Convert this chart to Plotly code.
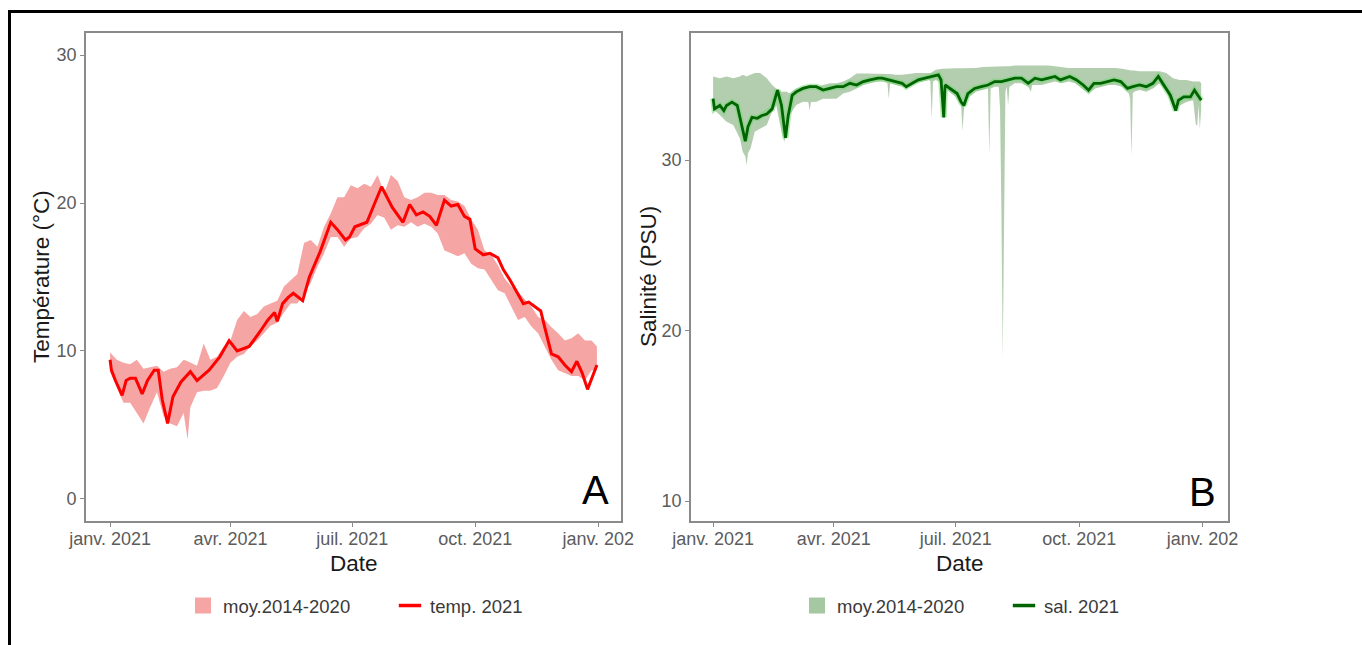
import pandas as pd
import plotly.graph_objects as go

# ---------------- données ----------------
# jour de l'année (0 = 1er janvier 2021)
temp_doy = [0, 1, 4, 9, 12, 15, 19, 24, 28, 33, 36, 39, 43, 47, 53, 60, 65, 74, 82, 89,
            95, 104, 112, 118, 123, 125, 129, 133, 137, 144, 149, 157, 165, 170, 176, 179,
            183, 192, 197, 203, 211, 219, 224, 229, 234, 239, 244, 250, 255, 260, 265, 269,
            273, 279, 284, 290, 294, 299, 304, 309, 313, 322, 325, 330, 335, 340, 345, 349,
            353, 357, 364]
temp_2021 = [9.4, 8.7, 8.0, 7.0, 8.0, 8.15, 8.15, 7.1, 8.0, 8.7, 8.7, 6.7, 5.1, 6.9, 7.9,
             8.6, 8.0, 8.7, 9.6, 10.7, 10.0, 10.3, 11.3, 12.1, 12.6, 12.0, 13.2, 13.6, 13.9,
             13.4, 15.0, 16.7, 18.7, 18.2, 17.5, 17.7, 18.4, 18.7, 19.8, 21.1, 19.7, 18.7,
             19.9, 19.2, 19.4, 19.1, 18.5, 20.2, 19.8, 19.9, 19.1, 18.9, 16.9, 16.5, 16.6,
             16.3, 15.5, 14.8, 14.0, 13.2, 13.3, 12.7, 11.6, 9.8, 9.6, 9.05, 8.6, 9.3, 8.5,
             7.4, 9.05]

temp_moy_doy = [0, 5, 10, 15, 20, 25, 30, 35, 40, 45, 50, 55, 58, 60, 65, 70, 75, 80, 85, 90,
                95, 100, 105, 110, 115, 120, 125, 130, 135, 140, 145, 150, 155, 160, 165, 170,
                175, 180, 185, 190, 195, 200, 205, 210, 215, 220, 225, 230, 235, 240, 245, 250,
                255, 260, 265, 270, 275, 280, 285, 290, 295, 300, 305, 310, 315, 320, 325, 330,
                335, 340, 345, 350, 355, 360, 364]
temp_moy_max = [9.9, 9.4, 9.2, 9.1, 9.4, 8.8, 8.9, 9.0, 8.6, 8.8, 8.9, 9.4, 9.3, 9.2, 9.0,
                10.5, 9.4, 9.6, 10.3, 10.7, 12.1, 12.7, 12.3, 12.5, 13.0, 13.2, 13.4, 14.35,
                14.8, 15.2, 17.3, 17.5, 17.05, 18.4, 19.3, 20.4, 20.4, 21.2, 21.0, 21.3, 21.1,
                21.9, 20.7, 21.9, 21.5, 20.4, 20.2, 20.4, 20.7, 20.7, 20.55, 20.55, 20.2, 20.1,
                19.8, 18.9, 18.2, 16.8, 16.5, 15.8, 14.9, 14.35, 14.0, 13.5, 13.0, 12.3, 12.1,
                11.6, 11.2, 10.7, 10.85, 11.2, 10.7, 10.7, 10.3]
temp_moy_min = [8.6, 7.6, 6.5, 6.5, 5.8, 5.1, 6.2, 7.2, 5.6, 5.1, 4.9, 5.8, 4.0, 6.2, 7.2,
                7.3, 7.3, 7.5, 8.3, 9.2, 9.6, 9.8, 10.3, 10.7, 11.2, 11.7, 11.9, 12.6, 13.2,
                13.2, 13.9, 14.6, 15.7, 16.6, 17.7, 17.7, 17.05, 17.6, 17.7, 18.3, 18.6, 19.2,
                19.0, 18.2, 18.5, 18.4, 18.7, 18.4, 18.6, 18.4, 17.95, 16.8, 16.6, 16.4, 16.6,
                15.9, 15.6, 15.5, 14.8, 14.1, 13.9, 13.0, 12.1, 12.3, 11.65, 11.2, 10.3, 9.4,
                8.7, 8.5, 8.3, 8.3, 8.0, 8.7, 8.7]

sal_doy = [0, 1, 5, 8, 10, 14, 18, 20, 23, 24, 26, 29, 33, 36, 40, 44, 48, 51, 54, 56,
           59, 62, 67, 72, 77, 82, 87, 92, 97, 102, 107, 112, 117, 123, 126, 131, 136, 141,
           144, 148, 153, 158, 163, 168, 170, 172, 173, 177, 182, 185, 187, 190, 195, 200,
           205, 210, 215, 220, 225, 230, 235, 240, 245, 250, 255, 259, 266, 271, 276, 280,
           284, 289, 294, 299, 304, 309, 313, 318, 323, 328, 332, 337, 341, 345, 347, 351,
           356, 359, 362, 364]
sal_2021 = [33.6, 33.0, 33.2, 32.9, 33.2, 33.4, 33.2, 32.5, 31.6, 31.1, 31.95, 32.5, 32.45,
            32.6, 32.7, 33.0, 34.1, 33.2, 31.3, 32.6, 33.8, 34.0, 34.2, 34.3, 34.3, 34.1, 34.2,
            34.3, 34.3, 34.5, 34.4, 34.6, 34.7, 34.8, 34.8, 34.7, 34.6, 34.5, 34.3, 34.5, 34.7,
            34.8, 34.9, 35.0, 34.7, 32.5, 34.4, 34.2, 33.9, 33.4, 33.2, 33.9, 34.2, 34.3, 34.4,
            34.6, 34.6, 34.7, 34.8, 34.8, 34.5, 34.8, 34.7, 34.8, 34.9, 34.7, 34.9, 34.7, 34.4,
            34.1, 34.5, 34.5, 34.6, 34.7, 34.6, 34.2, 34.3, 34.4, 34.3, 34.5, 34.9, 34.3, 33.8,
            32.9, 33.5, 33.7, 33.7, 34.1, 33.7, 33.5]

sal_moy_doy = [0, 5, 10, 15, 20, 22, 24, 25, 26, 28, 31, 35, 40, 44, 47, 51, 53, 55, 57, 62,
               67, 71, 72, 73, 77, 82, 87, 92, 97, 102, 107, 112, 117, 122, 127, 130, 131, 132,
               136, 141, 146, 151, 156, 161, 162, 163, 164, 166, 171, 176, 181, 185, 186, 187,
               188, 191, 196, 201, 205, 206, 207, 210, 213, 214, 215, 216, 217, 218, 219, 220,
               221, 225, 230, 235, 237, 238, 245, 250, 255, 260, 265, 270, 275, 280, 285, 290,
               295, 300, 305, 310, 311, 312, 313, 314, 318, 323, 328, 333, 338, 343, 348, 353,
               358, 360, 361, 362, 363, 364]
sal_moy_max = [34.9, 34.8, 34.9, 34.8, 34.9, 35.0, 34.95, 34.9, 34.95, 35.0, 35.1, 35.1, 34.8,
               34.4, 34.2, 34.0, 34.0, 34.0, 33.9, 34.2, 34.3, 34.4, 34.4, 34.4, 34.3, 34.4,
               34.5, 34.5, 34.6, 34.8, 35.08, 35.08, 35.08, 35.08, 35.05, 35.05, 35.05, 35.05,
               35.0, 35.0, 35.05, 35.1, 35.1, 35.1, 35.1, 35.15, 35.2, 35.3, 35.35, 35.38,
               35.38, 35.38, 35.38, 35.38, 35.38, 35.38, 35.4, 35.45, 35.47, 35.47, 35.47, 35.5,
               35.5, 35.5, 35.5, 35.5, 35.5, 35.5, 35.5, 35.5, 35.5, 35.55, 35.55, 35.57, 35.57,
               35.57, 35.57, 35.55, 35.5, 35.45, 35.4, 35.4, 35.4, 35.4, 35.4, 35.4, 35.4, 35.4,
               35.35, 35.25, 35.25, 35.25, 35.25, 35.25, 35.2, 35.2, 35.2, 35.2, 35.1, 34.8,
               34.7, 34.7, 34.6, 34.6, 34.6, 34.6, 34.6, 34.5]
sal_moy_min = [33.0, 32.64, 32.25, 32.05, 31.27, 30.5, 30.2, 29.7, 30.4, 30.7, 31.66, 31.86,
               32.05, 32.84, 33.23, 31.66, 31.07, 31.5, 32.64, 33.23, 33.42, 33.4, 32.9, 33.4,
               33.42, 33.6, 33.6, 33.6, 33.9, 34.0, 34.2, 34.4, 34.5, 34.6, 34.6, 34.5, 33.6,
               34.5, 34.4, 34.3, 34.3, 34.5, 34.6, 34.7, 34.6, 32.4, 34.6, 34.7, 34.5, 34.0,
               33.7, 33.2, 31.7, 32.9, 33.4, 33.7, 34.0, 34.1, 34.2, 30.3, 34.2, 34.3, 34.3,
               33.0, 27.0, 18.4, 26.0, 34.0, 34.3, 33.2, 34.3, 34.5, 34.5, 34.3, 34.0, 34.4,
               34.4, 34.5, 34.6, 34.5, 34.6, 34.5, 34.2, 33.9, 34.2, 34.3, 34.4, 34.4, 34.3,
               33.9, 33.6, 30.2, 33.9, 34.0, 34.1, 34.0, 34.2, 34.5, 34.0, 33.2, 33.2, 33.4,
               33.5, 32.1, 32.0, 33.2, 31.8, 33.0]

date_ticks = ["2021-01-01", "2021-04-01", "2021-07-01", "2021-10-01", "2022-01-01"]
date_labels = ["janv. 2021", "avr. 2021", "juil. 2021", "oct. 2021", "janv. 202"]
temp_ticks = [0, 10, 20, 30]
sal_ticks = [10, 20, 30]

# ---------------- mise en forme ----------------
W, H = 1362, 645
FONT = "Liberation Sans, Arial, sans-serif"
ORIGIN = pd.Timestamp("2021-01-01")


def to_dates(doy):
    return [ORIGIN + pd.Timedelta(days=d) for d in doy]


def fx(px):
    return px / W


def fy(py):
    return 1 - py / H


PINK = "#f6a5a5"
RED = "#ff0000"
SAGE = "#b3ceaf"
SAGE_KEY = "#a5c8a2"
DKGREEN = "#006400"

fig = go.Figure()

# Panneau A : température
td = to_dates(temp_moy_doy)
fig.add_trace(go.Scatter(
    x=td + td[::-1], y=temp_moy_max + temp_moy_min[::-1],
    fill="toself", fillcolor=PINK, line=dict(width=0), mode="lines",
    hoverinfo="skip", showlegend=False, xaxis="x", yaxis="y"))
fig.add_trace(go.Scatter(
    x=to_dates(temp_doy), y=temp_2021, mode="lines",
    line=dict(color=RED, width=3), showlegend=False, xaxis="x", yaxis="y"))

# Panneau B : salinité
sd = to_dates(sal_moy_doy)
fig.add_trace(go.Scatter(
    x=sd + sd[::-1], y=sal_moy_max + sal_moy_min[::-1],
    fill="toself", fillcolor=SAGE, line=dict(width=0), mode="lines",
    hoverinfo="skip", showlegend=False, xaxis="x2", yaxis="y2"))
fig.add_trace(go.Scatter(
    x=to_dates(sal_doy), y=sal_2021, mode="lines",
    line=dict(color="rgba(120,215,120,0.55)", width=6), hoverinfo="skip",
    showlegend=False, xaxis="x2", yaxis="y2"))
fig.add_trace(go.Scatter(
    x=to_dates(sal_doy), y=sal_2021, mode="lines",
    line=dict(color=DKGREEN, width=2.8), showlegend=False, xaxis="x2", yaxis="y2"))

# Légendes (clés seules)
fig.add_trace(go.Scatter(x=[None], y=[None], mode="markers", name="moy.2014-2020",
                         marker=dict(symbol="square", size=19, color=PINK), legend="legend"))
fig.add_trace(go.Scatter(x=[None], y=[None], mode="markers", name="temp. 2021",
                         marker=dict(symbol="line-ew", size=16,
                                     line=dict(color=RED, width=3.5)), legend="legend"))
fig.add_trace(go.Scatter(x=[None], y=[None], mode="markers", name="moy.2014-2020",
                         marker=dict(symbol="square", size=19, color=SAGE_KEY), legend="legend2",
                         xaxis="x2", yaxis="y2"))
fig.add_trace(go.Scatter(x=[None], y=[None], mode="markers", name="sal. 2021",
                         marker=dict(symbol="line-ew", size=16,
                                     line=dict(color=DKGREEN, width=3.5)), legend="legend2",
                         xaxis="x2", yaxis="y2"))

tickfont = dict(family=FONT, size=18, color="#5c5c5c")
axis_common = dict(showgrid=False, zeroline=False, showline=True, mirror=True,
                   linecolor="#8a8a8a", linewidth=1.6, ticks="outside", ticklen=4,
                   tickwidth=1.2, tickcolor="#8a8a8a", tickfont=tickfont, automargin=False)

ydom = [fy(521), fy(33)]
legend_font = dict(family=FONT, size=18.5, color="#3a3a3a")
fig.update_layout(
    width=W, height=H, margin=dict(l=0, r=0, t=0, b=0, autoexpand=False),
    paper_bgcolor="white", plot_bgcolor="white",
    xaxis=dict(domain=[fx(86), fx(621)], type="date", anchor="y",
               range=["2020-12-14", "2022-01-18"], ticklabelstandoff=-3,
               tickvals=date_ticks, ticktext=date_labels, **axis_common),
    yaxis=dict(domain=ydom, anchor="x", range=[-1.5, 31.5], tickvals=temp_ticks,
               **axis_common),
    xaxis2=dict(domain=[fx(691), fx(1228)], type="date", anchor="y2",
                range=["2020-12-15 12:00", "2022-01-20"], ticklabelstandoff=-3,
                tickvals=date_ticks, ticktext=date_labels, **axis_common),
    yaxis2=dict(domain=ydom, anchor="x2", range=[8.83, 37.45], tickvals=sal_ticks,
                **axis_common),
    legend=dict(orientation="h", x=fx(183), xanchor="left", y=fy(606), yanchor="middle",
                font=legend_font, entrywidth=162,
                bgcolor="rgba(0,0,0,0)", borderwidth=0),
    legend2=dict(orientation="h", x=fx(797), xanchor="left", y=fy(606), yanchor="middle",
                 font=legend_font, entrywidth=162,
                 bgcolor="rgba(0,0,0,0)", borderwidth=0),
    showlegend=True,
)

title_font = dict(family=FONT, size=22.5, color="#1a1a1a")
annotations = [
    dict(text="Date", x=fx(353.5), y=fy(563), font=title_font),
    dict(text="Date", x=fx(959.5), y=fy(563), font=title_font),
    dict(text="Température (°C)", x=fx(41), y=fy(277), textangle=-90, font=title_font),
    dict(text="Salinité (PSU)", x=fx(648), y=fy(277), textangle=-90, font=title_font),
    dict(text="A", x=fx(595), y=fy(490), font=dict(family=FONT, size=40, color="black")),
    dict(text="B", x=fx(1202), y=fy(492), font=dict(family=FONT, size=40, color="black")),
]
for a in annotations:
    a.update(xref="paper", yref="paper", showarrow=False, xanchor="center", yanchor="middle")
fig.update_layout(annotations=annotations)

# cadre extérieur
fig.add_shape(type="rect", xref="paper", yref="paper",
              x0=fx(9.5), x1=fx(W + 10), y0=fy(H + 10), y1=fy(11.5),
              line=dict(color="black", width=3), fillcolor="rgba(0,0,0,0)")

fig.write_html("out.html")
